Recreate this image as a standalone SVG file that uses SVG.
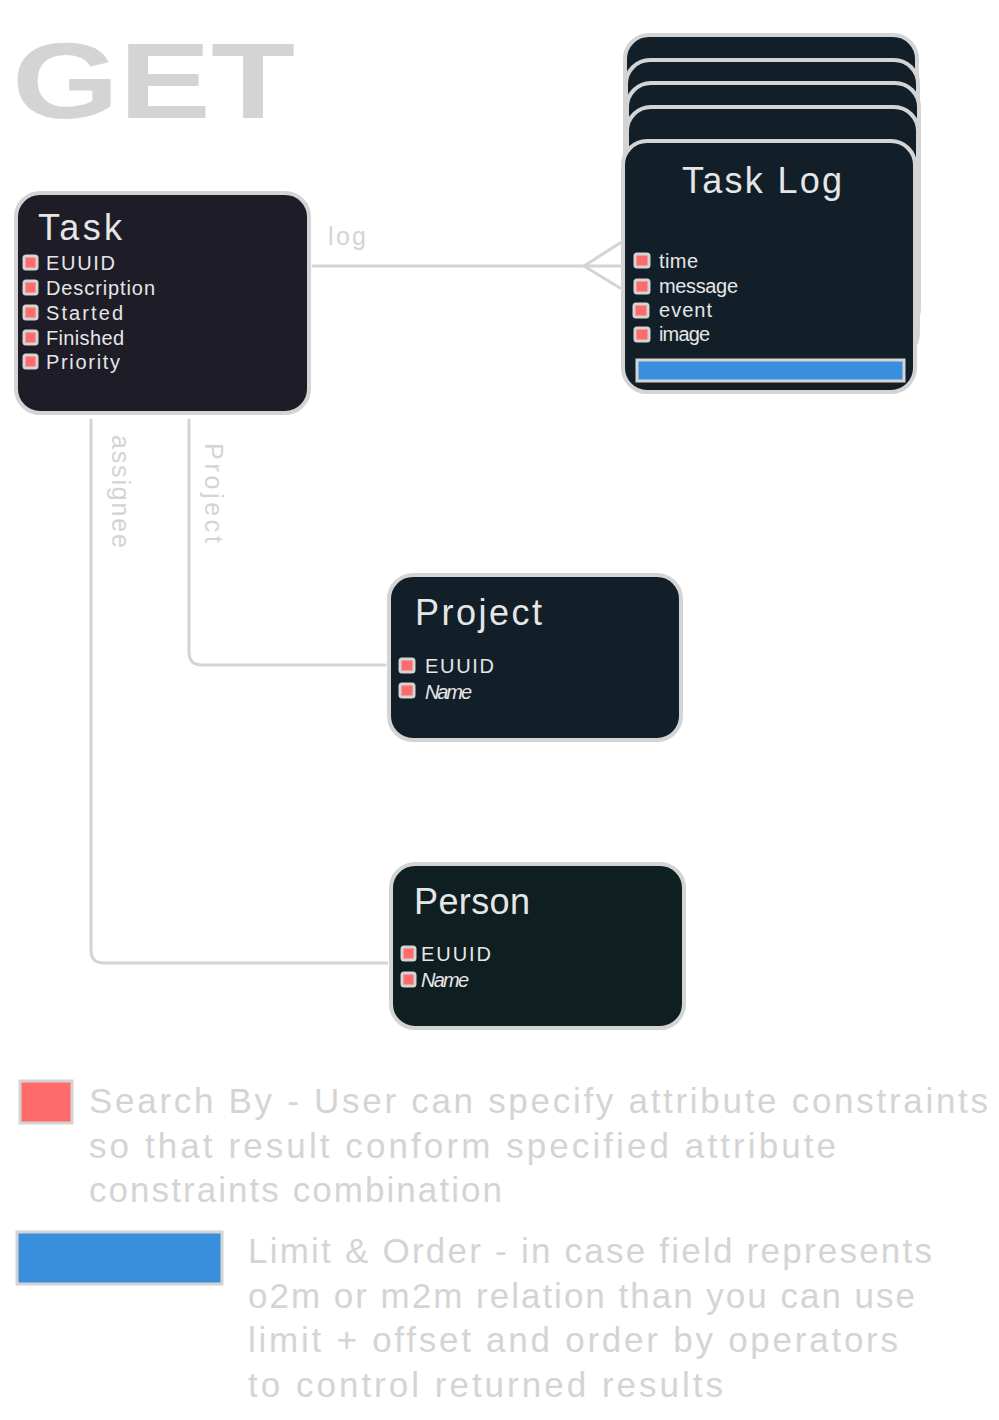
<svg xmlns="http://www.w3.org/2000/svg" width="999" height="1420" viewBox="0 0 999 1420">
<style>
.box{stroke:#d4d4d4;stroke-width:4}
.t{font-family:"Liberation Sans",Arial,sans-serif;fill:#e6e6e6}
.ttl{font-size:36px}
.att{font-size:20px}
.sq{fill:#ff6b6b;stroke:#d4d4d4;stroke-width:3}
.con{fill:none;stroke:#d4d4d4;stroke-width:3;stroke-linecap:round;stroke-linejoin:round}
.lbl{font-family:"Liberation Sans",Arial,sans-serif;fill:#d4d4d4;font-size:25px}
.leg{font-family:"Liberation Sans",Arial,sans-serif;fill:#d4d4d4;font-size:35px}
</style>
<rect width="999" height="1420" fill="#ffffff"/>
<text id="title" x="12" y="118" font-family="Liberation Sans,Arial,sans-serif" font-weight="bold" font-size="108" fill="#d4d4d4" textLength="283" lengthAdjust="spacingAndGlyphs">GET</text>

<g id="connectors">
  <path class="con" d="M313 266 L620 266"/>
  <path class="con" d="M620 243 L584 266 L620 288"/>
  <path class="con" d="M189 420 L189 652 Q189 665 202 665 L385 665"/>
  <path class="con" d="M91 420 L91 950 Q91 963 104 963 L387 963"/>
  <text class="lbl" x="328" y="245" textLength="38">log</text>
  <text class="lbl" transform="translate(112,435) rotate(90)" textLength="113">assignee</text>
  <text class="lbl" transform="translate(205,443) rotate(90)" font-size="29" textLength="100">Project</text>
</g>

<g id="task">
  <rect class="box" x="16" y="193" width="293" height="220" rx="24" fill="#1e1c27"/>
  <text class="t ttl" x="38" y="240" textLength="84">Task</text>
  <rect class="sq" x="24" y="256" width="13" height="13" rx="2"/>
  <rect class="sq" x="24" y="281" width="13" height="13" rx="2"/>
  <rect class="sq" x="24" y="306" width="13" height="13" rx="2"/>
  <rect class="sq" x="24" y="331" width="13" height="13" rx="2"/>
  <rect class="sq" x="24" y="355" width="13" height="13" rx="2"/>
  <text class="t att" x="46" y="270" textLength="69">EUUID</text>
  <text class="t att" x="46" y="295" textLength="109">Description</text>
  <text class="t att" x="46" y="320" textLength="77">Started</text>
  <text class="t att" x="46" y="345" textLength="78">Finished</text>
  <text class="t att" x="46" y="369" textLength="74">Priority</text>
</g>

<g id="tasklog">
  <rect class="box" x="625" y="35" width="292" height="250" rx="24" fill="#121e28"/>
  <rect class="box" x="626" y="60" width="292" height="250" rx="24" fill="#121e28"/>
  <rect class="box" x="627" y="83" width="292" height="250" rx="24" fill="#121e28"/>
  <rect class="box" x="627" y="107" width="291" height="250" rx="24" fill="#121e28"/>
  <rect class="box" x="623" y="141" width="292" height="251" rx="24" fill="#121e28"/>
  <text class="t ttl" x="682" y="193" textLength="160">Task Log</text>
  <rect class="sq" x="635" y="254" width="14" height="13" rx="2"/>
  <rect class="sq" x="635" y="280" width="14" height="13" rx="2"/>
  <rect class="sq" x="634" y="304" width="14" height="13" rx="2"/>
  <rect class="sq" x="635" y="328" width="14" height="13" rx="2"/>
  <text class="t att" x="659" y="268" textLength="39">time</text>
  <text class="t att" x="659" y="293" textLength="79">message</text>
  <text class="t att" x="659" y="317" textLength="53">event</text>
  <text class="t att" x="659" y="341" textLength="51">image</text>
  <rect x="637" y="360" width="267" height="21" fill="#3a8fdd" stroke="#d4d4d4" stroke-width="3"/>
</g>

<g id="project">
  <rect class="box" x="389" y="575" width="292" height="165" rx="24" fill="#121e28"/>
  <text class="t ttl" x="415" y="625" textLength="127">Project</text>
  <rect class="sq" x="400" y="659" width="14" height="13" rx="2"/>
  <rect class="sq" x="400" y="684" width="14" height="13" rx="2"/>
  <text class="t att" x="425" y="673" textLength="69">EUUID</text>
  <text class="t att" x="425" y="699" font-style="italic" textLength="47">Name</text>
</g>

<g id="person">
  <rect class="box" x="391" y="864" width="293" height="164" rx="24" fill="#0f1e21"/>
  <text class="t ttl" x="414" y="914" textLength="116">Person</text>
  <rect class="sq" x="402" y="947" width="13" height="13" rx="2"/>
  <rect class="sq" x="402" y="973" width="13" height="13" rx="2"/>
  <text class="t att" x="421" y="961" textLength="70">EUUID</text>
  <text class="t att" x="421" y="987" font-style="italic" textLength="48">Name</text>
</g>

<g id="legend">
  <rect x="20" y="1081" width="52" height="42" fill="#ff6b6b" stroke="#d4d4d4" stroke-width="3"/>
  <text class="leg" x="89" y="1113" textLength="899">Search By - User can specify attribute constraints</text>
  <text class="leg" x="89" y="1158" textLength="747">so that result conform specified attribute</text>
  <text class="leg" x="89" y="1202" textLength="413">constraints combination</text>
  <rect x="17" y="1232" width="205" height="52" fill="#3a8fdd" stroke="#d4d4d4" stroke-width="3"/>
  <text class="leg" x="248" y="1263" textLength="684">Limit &amp; Order - in case field represents</text>
  <text class="leg" x="248" y="1308" textLength="667">o2m or m2m relation than you can use</text>
  <text class="leg" x="248" y="1352" textLength="650">limit + offset and order by operators</text>
  <text class="leg" x="248" y="1397" textLength="475">to control returned results</text>
</g>
</svg>
